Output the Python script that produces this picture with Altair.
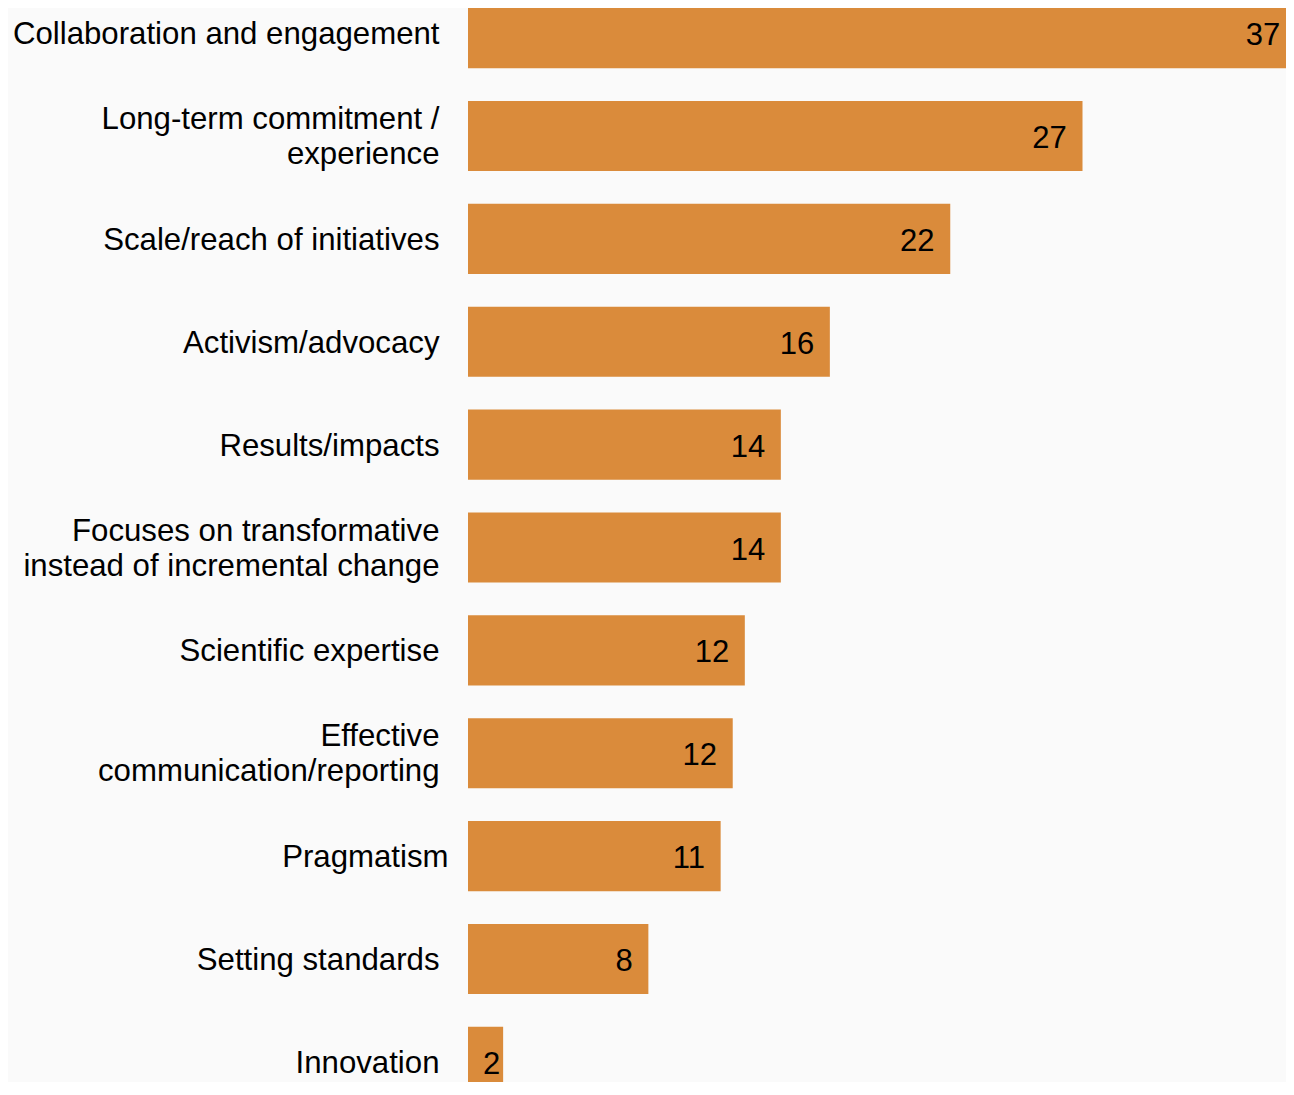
import altair as alt
import pandas as pd

categories = [
    "Collaboration and engagement",
    "Long-term commitment /\nexperience",
    "Scale/reach of initiatives",
    "Activism/advocacy",
    "Results/impacts",
    "Focuses on transformative\ninstead of incremental change",
    "Scientific expertise",
    "Effective\ncommunication/reporting",
    "Pragmatism",
    "Setting standards",
    "Innovation",
]
values = [37.0, 27.46, 21.55, 16.17, 13.98, 13.98, 12.37, 11.83, 11.29, 8.06, 1.57]

df = pd.DataFrame({"cat": categories, "v": values})

FONT = "Liberation Sans"
xscale = alt.Scale(domain=[0, 37], nice=False, zero=True)

base = alt.Chart(df).encode(
    y=alt.Y(
        "cat:N",
        sort=categories,
        scale=alt.Scale(paddingInner=0.318, paddingOuter=0),
        axis=alt.Axis(
            title=None,
            ticks=False,
            tickSize=0,
            domain=False,
            grid=False,
            labelPadding={
                "condition": {"test": "datum.value == 'Pragmatism'", "value": 20},
                "value": 29,
            },
            labelOffset={
                "condition": {"test": "indexof(datum.value, '\\n') >= 0", "value": -16},
                "value": 2,
            },
            labelFont=FONT,
            labelFontSize=31.2,
            labelColor="black",
            labelLineHeight=35,
            labelLimit=700,
            labelExpr="split(datum.label, '\\n')",
        ),
    )
)

bars = base.mark_bar(color="#DA8B3B").encode(
    x=alt.X("v:Q", axis=None, scale=xscale)
)

text = base.transform_calculate(
    lx="datum.v < 3 ? datum.v - 0.13 : datum.v - 0.7"
).mark_text(
    align="right", baseline="middle", font=FONT, fontSize=31, color="black", dy=3
).encode(
    x=alt.X("lx:Q", axis=None, scale=xscale),
    text=alt.Text("v:Q", format=".0f"),
)

chart = (
    alt.layer(bars, text)
    .properties(
        width=828,
        height=1099,
        padding={"left": 460, "top": -10, "right": -10, "bottom": -15},
        autosize=alt.AutoSizeParams(type="none"),
        background="#FAFAFA",
    )
    .configure_view(stroke=None)
)

chart.save("out.html", embed_options={"renderer": "svg", "actions": False})
